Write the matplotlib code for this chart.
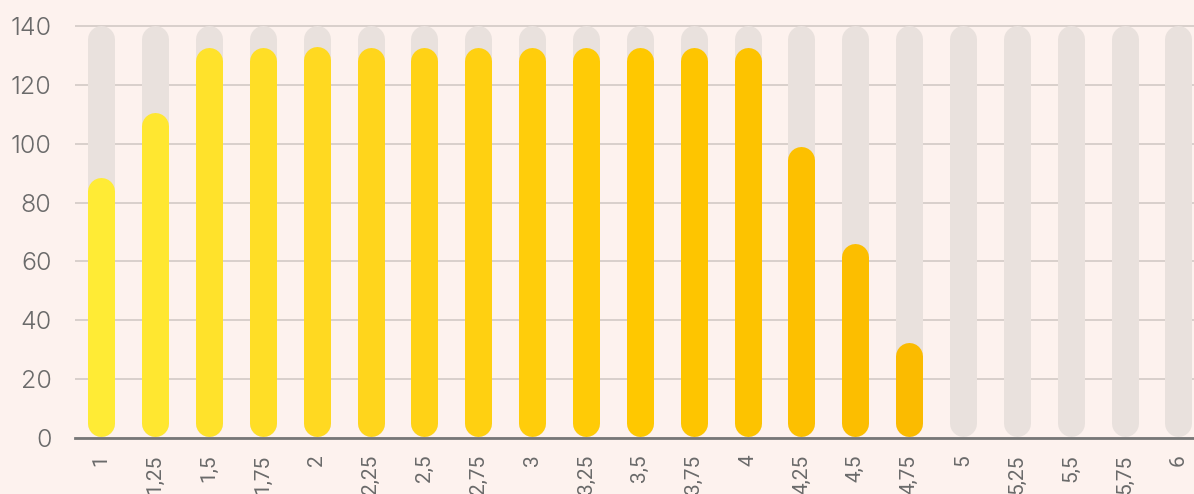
import matplotlib
matplotlib.use("Agg")
import matplotlib.pyplot as plt
from matplotlib.colors import LinearSegmentedColormap

# data
sizes = ["1", "1,25", "1,5", "1,75", "2", "2,25", "2,5", "2,75", "3", "3,25", "3,5",
         "3,75", "4", "4,25", "4,5", "4,75", "5", "5,25", "5,5", "5,75", "6"]
values = [88.5, 110.5, 132.8, 132.8, 133, 132.8, 132.8, 132.8, 132.8, 132.8, 132.8,
          132.8, 132.8, 99, 66, 32.5, 0, 0, 0, 0, 0]
track_max = 140
yticks = [0, 20, 40, 60, 80, 100, 120, 140]

BG = "#fdf2ee"
TRACK = "#e9e1dd"
GRID = "#d6cdc9"
TEXT = "#6a6a6a"

W, H = 11.94, 4.94
fig = plt.figure(figsize=(W, H), dpi=100, facecolor=BG)
ax = fig.add_axes([75 / 1194, 56 / 494, 1119 / 1194, 438 / 494])
ax.set_facecolor(BG)

n = len(sizes)
ax.set_xlim(-0.488, n - 1 + 0.288)
ax.set_ylim(0, 148.8)

# bar width in pixels -> points; cap radius in data units
bar_px = 27
lw = bar_px * 72 / 100
units_per_px = 148.8 / 438
r = bar_px / 2 * units_per_px
bottom = 2 * units_per_px  # tiny gap above the axis line

cmap = LinearSegmentedColormap.from_list("ylw", ["#ffeb35", "#ffd51c", "#ffc800", "#fbbb00"])
nfilled = sum(1 for v in values if v > 0)

for i, v in enumerate(values):
    ax.plot([i, i], [bottom + r, track_max - r], color=TRACK, lw=lw,
            solid_capstyle="round", zorder=2)
    if v > 0:
        c = cmap(i / (nfilled - 1))
        ax.plot([i, i], [bottom + r, v - r], color=c, lw=lw,
                solid_capstyle="round", zorder=3)

ax.set_yticks(yticks)
ax.set_yticklabels([str(t) for t in yticks], fontsize=18, color=TEXT,
                   family="Inter", fontweight=300)
ax.yaxis.grid(True, color=GRID, lw=1.3, zorder=1)
ax.set_axisbelow(True)

ax.set_xticks(range(n))
ax.set_xticklabels(sizes, rotation=90, fontsize=15, color=TEXT,
                   family="Roboto", fontweight="normal", va="top")
ax.tick_params(axis="both", length=0)
ax.tick_params(axis="x", pad=12)
ax.tick_params(axis="y", pad=17)

for s in ["top", "right", "left"]:
    ax.spines[s].set_visible(False)
ax.spines["bottom"].set_color("#777777")
ax.spines["bottom"].set_linewidth(2)
ax.spines["bottom"].set_zorder(4)

fig.savefig("out.png", dpi=100, facecolor=BG)
